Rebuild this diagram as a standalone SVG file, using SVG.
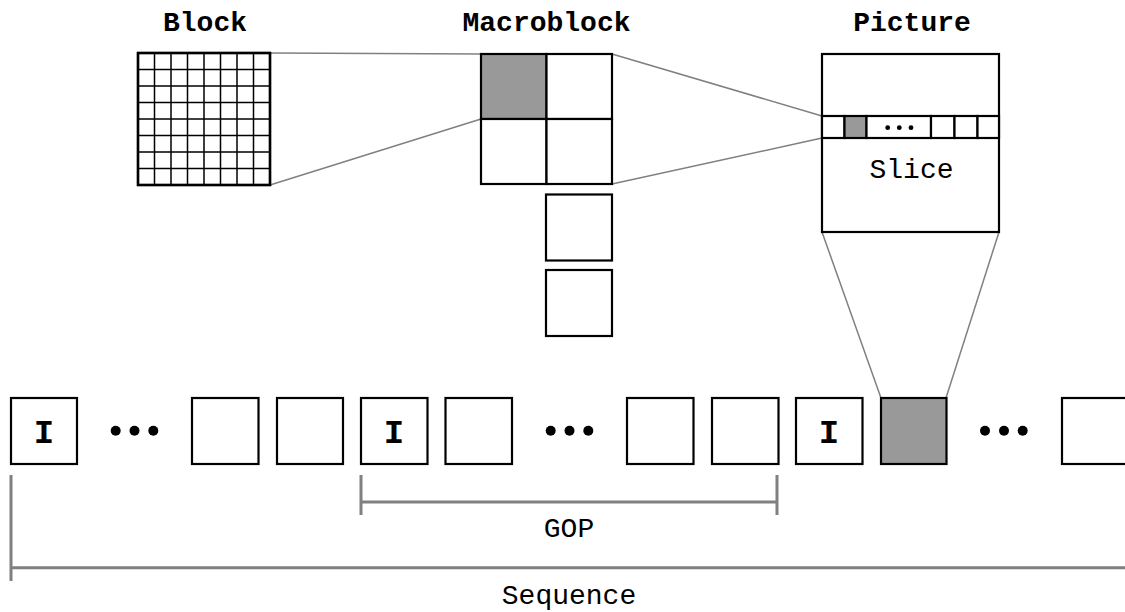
<svg xmlns="http://www.w3.org/2000/svg" width="1125" height="612" viewBox="0 0 1125 612">
<style>
.t{font-family:"Liberation Mono","DejaVu Sans Mono",monospace;font-size:28px;font-weight:bold;fill:#000;text-anchor:middle}
.tn{font-family:"Liberation Mono","DejaVu Sans Mono",monospace;font-size:28px;fill:#000;text-anchor:middle}
.ti{font-family:"Liberation Mono","DejaVu Sans Mono",monospace;font-size:34px;font-weight:bold;fill:#000;text-anchor:middle}
.bx{fill:#fff;stroke:#000;stroke-width:2.2}
.gr{fill:#999;stroke:#000;stroke-width:2.2}
.ln{stroke:#000;stroke-width:1.5;fill:none}
.cn{stroke:#808080;stroke-width:1.5;fill:none}
.br{stroke:#808080;stroke-width:3;fill:none}
</style>
<rect width="1125" height="612" fill="#fff"/>
<g id="connectors">
<line class="cn" x1="270" y1="53" x2="481" y2="54"/>
<line class="cn" x1="270" y1="185" x2="481" y2="119"/>
<line class="cn" x1="612" y1="54" x2="822" y2="116"/>
<line class="cn" x1="612" y1="184" x2="822" y2="138"/>
<line class="cn" x1="822" y1="232" x2="881" y2="398"/>
<line class="cn" x1="999" y1="232" x2="946" y2="398"/>
</g>
<g id="block">
<text class="t" x="205" y="31">Block</text>
<rect class="bx" x="138" y="53" width="132" height="132"/>
<path class="ln" d="M154.5 53V185M171 53V185M187.5 53V185M204 53V185M220.5 53V185M237 53V185M253.5 53V185M138 69.5H270M138 86H270M138 102.5H270M138 119H270M138 135.5H270M138 152H270M138 168.5H270"/>
<rect x="138" y="53" width="132" height="132" fill="none" stroke="#000" stroke-width="2.5"/>
</g>
<g id="macroblock">
<text class="t" x="546.5" y="31">Macroblock</text>
<rect class="gr" x="481" y="54" width="65.5" height="65"/>
<rect class="bx" x="546.5" y="54" width="65.5" height="65"/>
<rect class="bx" x="481" y="119" width="65.5" height="65"/>
<rect class="bx" x="546.5" y="119" width="65.5" height="65"/>
<rect class="bx" x="546" y="194.5" width="66" height="66"/>
<rect class="bx" x="546" y="270" width="66" height="66"/>
</g>
<g id="picture">
<text class="t" x="912" y="31">Picture</text>
<rect class="bx" x="822" y="54" width="177" height="178"/>
<rect class="bx" x="822" y="116" width="22.5" height="22"/>
<rect class="gr" x="844.5" y="116" width="22" height="22"/>
<rect class="bx" x="866.5" y="116" width="64.5" height="22"/>
<rect class="bx" x="931" y="116" width="23.5" height="22"/>
<rect class="bx" x="954.5" y="116" width="23" height="22"/>
<rect class="bx" x="977.5" y="116" width="21.5" height="22"/>
<circle cx="887.7" cy="127.7" r="2.4"/>
<circle cx="899.3" cy="127.7" r="2.4"/>
<circle cx="911" cy="127.7" r="2.4"/>
<text class="tn" x="911.5" y="178">Slice</text>
</g>
<g id="sequence">
<rect class="bx" x="11" y="398" width="66" height="66"/>
<text class="ti" x="44" y="443">I</text>
<circle cx="115.7" cy="430.7" r="5"/><circle cx="134.5" cy="430.7" r="5"/><circle cx="153.3" cy="430.7" r="5"/>
<rect class="bx" x="192" y="398" width="66.5" height="66"/>
<rect class="bx" x="277" y="398" width="66" height="66"/>
<rect class="bx" x="361" y="398" width="66.5" height="66"/>
<text class="ti" x="394" y="443">I</text>
<rect class="bx" x="445.5" y="398" width="66.5" height="66"/>
<circle cx="550.7" cy="430.7" r="5"/><circle cx="569.5" cy="430.7" r="5"/><circle cx="588.3" cy="430.7" r="5"/>
<rect class="bx" x="627" y="398" width="66.5" height="66"/>
<rect class="bx" x="712" y="398" width="66.5" height="66"/>
<rect class="bx" x="796" y="398" width="66.5" height="66"/>
<text class="ti" x="829" y="443">I</text>
<rect class="gr" x="881" y="398" width="65.5" height="66"/>
<circle cx="985" cy="430.7" r="5"/><circle cx="1004" cy="430.7" r="5"/><circle cx="1022.7" cy="430.7" r="5"/>
<rect class="bx" x="1062" y="398" width="70" height="66"/>
</g>
<g id="gop">
<path class="br" d="M361 475V515M777 475V515M361 502H777"/>
<text class="tn" x="569" y="537">GOP</text>
</g>
<g id="seq-bracket">
<path class="br" d="M11 475V581M11 567.7H1125"/>
<text class="tn" x="569" y="604">Sequence</text>
</g>
</svg>
